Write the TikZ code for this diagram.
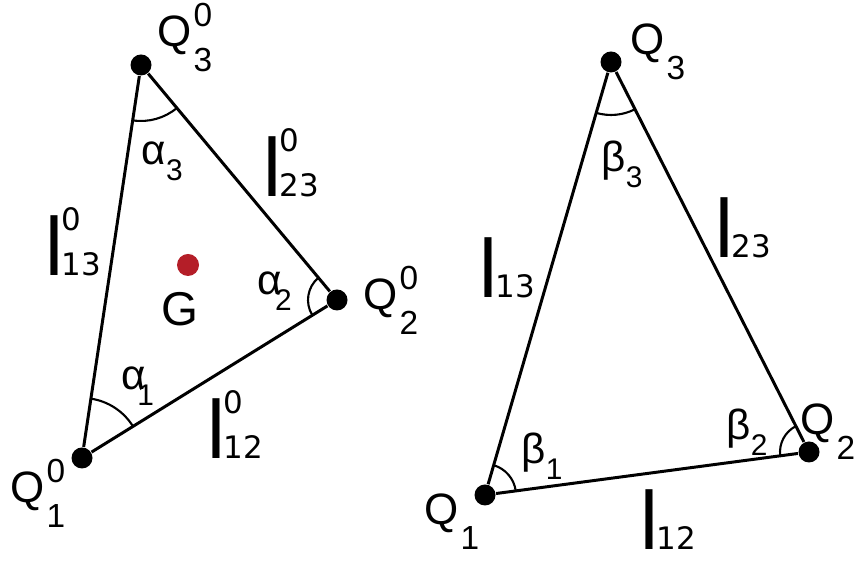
\documentclass[tikz,border=0pt]{standalone}
\usepackage{fontspec}
\usepackage{xcolor}
\usepackage{tikz}
\setmainfont{Liberation Sans}
\newfontfamily\dejavu{DejaVu Sans}
\definecolor{gred}{RGB}{180,30,40}
% vertex names, side lengths and angles
\newcommand{\qlab}[2]{{\fontsize{12.5}{14}\selectfont Q}\kern0.5pt{\fontsize{9.5}{11}\selectfont\rlap{\raisebox{5.7pt}{#2}}\raisebox{-7pt}{#1}}}
\newcommand{\lenlab}[2]{{\dejavu\fontsize{22.4}{24}\selectfont l}\kern-1.2pt{\dejavu\fontsize{8.8}{10}\selectfont\rlap{\raisebox{12.9pt}{#2}}#1}}
\newcommand{\anglab}[3][0pt]{{\fontsize{12}{14}\selectfont #2}\kern#1{\fontsize{8.5}{10}\selectfont\raisebox{-4.5pt}{#3}}}

\begin{document}
\begin{tikzpicture}[
  vertex/.style={circle,fill,inner sep=0pt,minimum size=0.21cm},
  side/.style={line width=0.85pt},
  anglearc/.style={line width=0.6pt},
  lbl/.style={anchor=base west,inner sep=0pt}]
  \useasboundingbox (0,0) rectangle (8.64,5.61);
  % the reference triangle with its centre G
  \node[vertex] (A1) at (0.82,1.03) {};
  \node[vertex] (A2) at (3.37,2.61) {};
  \node[vertex] (A3) at (1.41,4.96) {};
  \draw[side] (A1) -- (A2) -- (A3) -- (A1);
  \draw[anglearc] ([shift={(31.8:0.60)}]A1.center) arc[start angle=31.8,end angle=81.5,radius=0.60];
  \draw[anglearc] ([shift={(129.8:0.29)}]A2.center) arc[start angle=129.8,end angle=211.8,radius=0.29];
  \draw[anglearc] ([shift={(261.5:0.56)}]A3.center) arc[start angle=261.5,end angle=309.8,radius=0.56];
  \node[circle,fill=gred,inner sep=0pt,minimum size=0.22cm] (G) at (1.88,2.96) {};
  \node[lbl] (Glab) at (1.61,2.35) {\fontsize{13.5}{15}\selectfont G};
  \node[lbl] (A1lab) at (0.10,0.58) {\qlab{1}{0}};
  \node[lbl] (A2lab) at (3.63,2.51) {\qlab{2}{0}};
  \node[lbl] (A3lab) at (1.57,5.14) {\qlab{3}{0}};
  \node[lbl] (a1) at (1.21,1.71) {\anglab[-2.5pt]{α}{1}};
  \node[lbl] (a2) at (2.57,2.66) {\anglab[-2pt]{α}{2}};
  \node[lbl] (a3) at (1.41,3.96) {\anglab{α}{3}};
  \node[lbl] (l12) at (2.05,1.02) {\lenlab{12}{0}};
  \node[lbl] (l13) at (0.43,2.85) {\lenlab{13}{0}};
  \node[lbl] (l23) at (2.61,3.64) {\lenlab{23}{0}};
  % the deformed triangle
  \node[vertex] (B1) at (4.85,0.66) {};
  \node[vertex] (B2) at (8.09,1.09) {};
  \node[vertex] (B3) at (6.11,4.99) {};
  \draw[side] (B1) -- (B2) -- (B3) -- (B1);
  \draw[anglearc] ([shift={(7.6:0.31)}]B1.center) arc[start angle=7.6,end angle=73.8,radius=0.31];
  \draw[anglearc] ([shift={(116.9:0.29)}]B2.center) arc[start angle=116.9,end angle=187.6,radius=0.29];
  \draw[anglearc] ([shift={(253.8:0.53)}]B3.center) arc[start angle=253.8,end angle=296.9,radius=0.53];
  \node[lbl] (B1lab) at (4.24,0.36) {\qlab{1}{}};
  \node[lbl] (B2lab) at (8.00,1.26) {\qlab{2}{}};
  \node[lbl] (B3lab) at (6.30,5.06) {\qlab{3}{}};
  \node[lbl] (b1) at (5.21,0.97) {\anglab{β}{1}};
  \node[lbl] (b2) at (7.26,1.21) {\anglab{β}{2}};
  \node[lbl] (b3) at (6.01,3.89) {\anglab{β}{3}};
  \node[lbl] (m12) at (6.38,0.11) {\lenlab{12}{}};
  \node[lbl] (m13) at (4.77,2.63) {\lenlab{13}{}};
  \node[lbl] (m23) at (7.13,3.03) {\lenlab{23}{}};
\end{tikzpicture}
\end{document}
